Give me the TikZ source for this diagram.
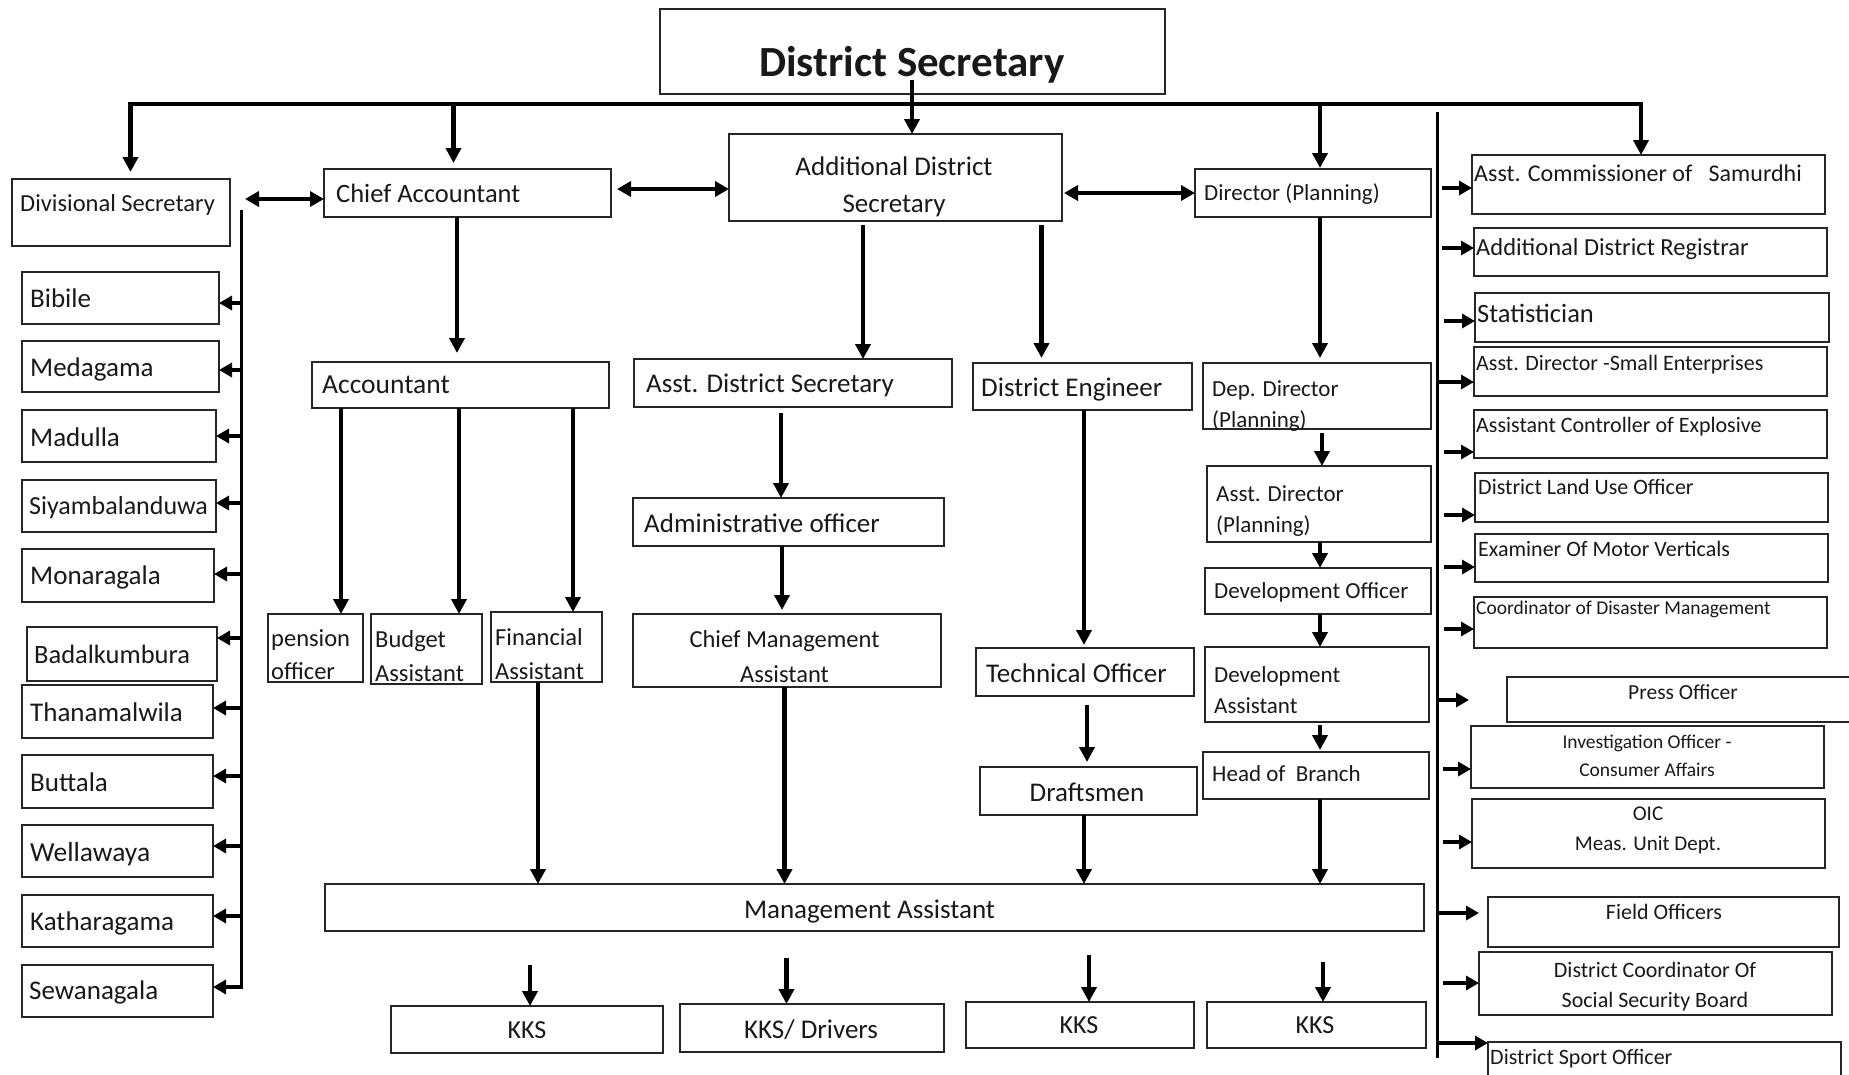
\documentclass[tikz,border=0pt]{standalone}
\usepackage{fontspec}
\setmainfont{Carlito}
\usetikzlibrary{arrows.meta,calc}
\tikzset{
  bx/.style={draw=black!85, line width=1.5pt, anchor=north west, inner sep=0pt, outer sep=0pt},
  tx/.style={inner sep=0pt, text=black!90},
  fs/.style={font=\fontsize{#1pt}{#1pt}\selectfont, text depth=0pt},
  fsb/.style 2 args={font=\fontsize{#1pt}{#2pt}\selectfont},
  arr/.style={line width=4.5pt, -{Triangle[length=15pt,width=15pt]}},
  sarr/.style={line width=4.5pt, -{Triangle[length=13pt,width=14pt]}},
  darr/.style={line width=4.5pt, {Triangle[length=14pt,width=15pt]}-{Triangle[length=14pt,width=15pt]}},
  hbar/.style={line width=3.5pt},
  vbar/.style={line width=3pt}
}
\newcommand{\obox}[5]{\node[bx, minimum width={#4-#2}, minimum height={#5-#3}] (#1) at (#2,#3) {};}
\begin{document}
\begin{tikzpicture}[x=1pt,y=-1pt]
\fill[white] (0,0) rectangle (1849,1074);
\useasboundingbox (0,0) rectangle (1849,1074);

% ---------- top ----------
\node[bx, line width=2.5pt, minimum width=505, minimum height=85] (ds) at (660,9) {};
\node[tx, font=\fontsize{43pt}{43pt}\selectfont\bfseries] (t-ds) at (912,65) {District Secretary};

\obox{ads}{729}{134}{1062}{221}
\node[tx, fsb={27}{37}, align=center] (t-ads) at (894,186.5) {Additional District\\Secretary};

% ---------- left column ----------
\obox{divsec}{12}{179}{230}{246}
\node[tx, fs=24.5, anchor=west] (t-divsec) at (20,203) {Divisional Secretary};
\obox{bib}{22}{272}{219}{324}
\node[tx, fs=27, anchor=west] (t-bib) at (30,298) {Bibile};
\obox{med}{22}{341}{219}{392}
\node[tx, fs=27, anchor=west] (t-med) at (30,367) {Medagama};
\obox{mad}{22}{410}{216}{462}
\node[tx, fs=27, anchor=west] (t-mad) at (30,437) {Madulla};
\obox{siy}{22}{480}{216}{532}
\node[tx, fs=26, anchor=west] (t-siy) at (29,505) {Siyambalanduwa};
\obox{mon}{22}{549}{214}{602}
\node[tx, fs=27, anchor=west] (t-mon) at (30,575) {Monaragala};
\obox{bad}{27}{627}{217}{681}
\node[tx, fs=26.5, anchor=west] (t-bad) at (34,654) {Badalkumbura};
\obox{tha}{22}{685}{213}{738}
\node[tx, fs=27, anchor=west] (t-tha) at (30,712) {Thanamalwila};
\obox{but}{22}{755}{213}{808}
\node[tx, fs=27, anchor=west] (t-but) at (30,782) {Buttala};
\obox{wel}{22}{825}{213}{877}
\node[tx, fs=27.5, anchor=west] (t-wel) at (30,852) {Wellawaya};
\obox{kat}{22}{895}{213}{947}
\node[tx, fs=27, anchor=west] (t-kat) at (30,921) {Katharagama};
\obox{sew}{22}{965}{213}{1017}
\node[tx, fs=27, anchor=west] (t-sew) at (29,990) {Sewanagala};

% ---------- accountant branch ----------
\obox{ca}{324}{169}{611}{217}
\node[tx, fs=26.5, anchor=west] (t-ca) at (336,193) {Chief Accountant};
\obox{acc}{312}{362}{609}{408}
\node[tx, fs=27.5, anchor=west] (t-acc) at (322,385) {Accountant};
\obox{pen}{268}{614}{363}{682}
\node[tx, fsb={24.5}{33}, align=left, anchor=west] (t-pen) at (271,655) {pension\\officer};
\obox{bud}{371}{614}{482}{684}
\node[tx, fsb={24.5}{34}, align=left, anchor=west] (t-bud) at (375,656) {Budget\\Assistant};
\obox{fin}{491}{612}{602}{682}
\node[tx, fsb={24.5}{34}, align=left, anchor=west] (t-fin) at (495,654) {Financial\\Assistant};

% ---------- ADS branch ----------
\obox{adists}{634}{359}{952}{407}
\node[tx, fs=27, anchor=west] (t-adists) at (646,383) {Asst. District Secretary};
\obox{admin}{633}{498}{944}{546}
\node[tx, fs=27, anchor=west] (t-admin) at (644,523) {Administrative officer};
\obox{cma}{633}{614}{941}{687}
\node[tx, fsb={24.5}{35}, align=center] (t-cma) at (784.5,656.5) {Chief Management\\Assistant};

\obox{de}{973}{363}{1192}{410}
\node[tx, fs=27, anchor=west] (t-de) at (981,387) {District Engineer};
\obox{to}{976}{648}{1194}{696}
\node[tx, fs=27, anchor=west] (t-to) at (986,673) {Technical Officer};
\obox{draft}{980}{767}{1197}{815}
\node[tx, fs=27] (t-draft) at (1087,792) {Draftsmen};

\obox{ma}{325}{884}{1424}{931}
\node[tx, fs=27] (t-ma) at (869.5,909) {Management Assistant};

\obox{kksa}{391}{1006}{663}{1053}
\node[tx, fs=26] (t-kksa) at (527,1030) {KKS};
\obox{kksb}{680}{1004}{944}{1052}
\node[tx, fs=27] (t-kksb) at (811,1029) {KKS/ Drivers};
\obox{kksc}{966}{1002}{1194}{1048}
\node[tx, fs=26] (t-kksc) at (1079,1025) {KKS};
\obox{kksd}{1207}{1002}{1426}{1048}
\node[tx, fs=26] (t-kksd) at (1315,1025) {KKS};

% ---------- planning branch ----------
\obox{dirp}{1195}{169}{1431}{217}
\node[tx, fs=23, anchor=west] (t-dirp) at (1204,192) {Director (Planning)};
\obox{depdir}{1203}{363}{1431}{429}
\node[tx, fsb={23}{31}, align=left, anchor=west] (t-depdir) at (1212,406.5) {Dep. Director\\(Planning)};
\obox{asstdir}{1207}{466}{1431}{542}
\node[tx, fsb={23}{31}, align=left, anchor=west] (t-asstdir) at (1216,511.5) {Asst. Director\\(Planning)};
\obox{devo}{1205}{568}{1431}{614}
\node[tx, fs=23, anchor=west] (t-devo) at (1214,591) {Development Officer};
\obox{deva}{1205}{647}{1429}{722}
\node[tx, fsb={23}{31}, align=left, anchor=west] (t-deva) at (1214,690.5) {Development\\Assistant};
\obox{hob}{1203}{752}{1429}{799}
\node[tx, fs=23, anchor=west] (t-hob) at (1212,774) {Head of\ \ Branch};

% ---------- right column ----------
\obox{sam}{1472}{155}{1825}{214}
\node[tx, fs=24, anchor=west] (t-sam) at (1474,173) {Asst. Commissioner of\ \ \ Samurdhi};
\obox{reg}{1474}{228}{1827}{276}
\node[tx, fs=24.5, anchor=west] (t-reg) at (1476,247) {Additional District Registrar};
\obox{stat}{1475}{293}{1829}{342}
\node[tx, fs=26.5, anchor=west] (t-stat) at (1477,313) {Statistician};
\obox{small}{1474}{347}{1827}{396}
\node[tx, fs=22, anchor=west] (t-small) at (1476,363) {Asst. Director -Small Enterprises};
\obox{expl}{1474}{410}{1827}{458}
\node[tx, fs=22, anchor=west] (t-expl) at (1476,425) {Assistant Controller of Explosive};
\obox{land}{1475}{473}{1828}{522}
\node[tx, fs=22, anchor=west] (t-land) at (1478,487) {District Land Use Officer};
\obox{exam}{1475}{534}{1828}{582}
\node[tx, fs=22, anchor=west] (t-exam) at (1478,549) {Examiner Of Motor Verticals};
\obox{disas}{1474}{597}{1827}{648}
\node[tx, fs=19.5, anchor=west] (t-disas) at (1476,608) {Coordinator of Disaster Management};
\obox{press}{1507}{677}{1870}{722}
\node[tx, fs=21.5] (t-press) at (1683,692) {Press Officer};
\obox{inv}{1471}{726}{1824}{788}
\node[tx, fsb={19.5}{28}, align=center] (t-inv) at (1647,755.5) {Investigation Officer -\\Consumer Affairs};
\obox{oic}{1472}{799}{1825}{868}
\node[tx, fsb={21}{30}, align=center] (t-oic) at (1648,830.5) {OIC\\Meas. Unit Dept.};
\obox{field}{1488}{897}{1839}{947}
\node[tx, fs=22] (t-field) at (1664,912) {Field Officers};
\obox{dcoord}{1479}{952}{1832}{1015}
\node[tx, fsb={22}{30}, align=center] (t-dcoord) at (1655,986.5) {District Coordinator Of\\Social Security Board};
\obox{sport}{1488}{1042}{1841}{1095}
\node[tx, fs=22, anchor=west] (t-sport) at (1490,1057) {District Sport Officer};

% ---------- top distribution line ----------
\coordinate (tl) at (130.5,104);
\coordinate (tca) at (453.5,104);
\coordinate (tdp) at (1320,104);
\coordinate (tr) at (1641,104);
\draw[hbar] ([xshift=-2.25pt]tl) -- ([xshift=2.25pt]tr);
\draw[arr, shorten >=7pt] ([yshift=1.75pt]tl) -- (tl |- divsec.north);
\draw[arr, shorten >=6pt] (tca) -- (tca |- ca.north);
\draw[arr, shorten >=1pt] (tdp) -- (tdp |- dirp.north);
\draw[arr] ([yshift=1.75pt]tr) -- (tr |- sam.north);
\coordinate (dsa) at (912,80);
\draw[arr] (dsa) -- (dsa |- ads.north);

% ---------- double arrows ----------
\coordinate (da1) at (245,199);
\draw[darr] (da1) -- (da1 -| ca.west);
\coordinate (da2) at (617,189);
\draw[darr] (da2) -- (da2 -| ads.west);
\coordinate (da3) at (1064,193);
\draw[darr] (da3) -- (da3 -| dirp.west);

% ---------- vertical separators ----------
\coordinate (vl1) at (241,210);
\coordinate (vl2) at (241,989);
\draw[vbar] (vl1) -- (vl2);
\coordinate (vr1) at (1437,112);
\coordinate (vr2) at (1437,1058);
\draw[vbar] (vr1) -- (vr2);

\foreach \n/\y in {bib/303,med/370,mad/436,siy/503,mon/574,bad/638,tha/708,but/776,wel/846,kat/916,sew/987}{
  \coordinate (l-\n) at (241,\y);
  \draw[sarr] (l-\n) -- (l-\n -| \n.east);
}
\foreach \n/\x/\y in {sam/1442/188,reg/1442/248,stat/1444/321,small/1439/382,expl/1444/452,land/1444/515,exam/1444/567,disas/1444/629,inv/1443/769,oic/1443/842,dcoord/1443/983,sport/1439/1043}{
  \coordinate (r-\n) at (\x,\y);
  \draw[sarr] (r-\n) -- (r-\n -| \n.west);
}
\coordinate (r-press) at (1439,700);
\draw[sarr] (r-press) -- ($(r-press -| press.west)+(-38,0)$);
\coordinate (r-field) at (1439,913);
\draw[sarr] (r-field) -- ($(r-field -| field.west)+(-9,0)$);

% ---------- down arrows ----------
\coordinate (x457) at (457,0);
\coordinate (x341) at (341,0);
\coordinate (x459) at (459,0);
\coordinate (x573) at (573,0);
\coordinate (x538) at (538,0);
\coordinate (x863) at (863,0);
\coordinate (x1041) at (1041.5,0);
\coordinate (x781) at (781,0);
\coordinate (x782) at (782,0);
\coordinate (x784) at (784.5,0);
\coordinate (x1084) at (1084,0);
\coordinate (x1087) at (1087,0);
\coordinate (x1320) at (1320,0);
\coordinate (x1322) at (1322,0);
\draw[arr, shorten >=9pt] (ca.south -| x457) -- (acc.north -| x457);
\draw[arr] (acc.south -| x341) -- (pen.north -| x341);
\draw[arr] (acc.south -| x459) -- (bud.north -| x459);
\draw[arr] (acc.south -| x573) -- (fin.north -| x573);
\draw[arr] (fin.south -| x538) -- (ma.north -| x538);
\draw[arr, shorten <=4pt] (ads.south -| x863) -- (adists.north -| x863);
\draw[arr, shorten <=4pt, shorten >=5pt] (ads.south -| x1041) -- (de.north -| x1041);
\draw[arr, shorten <=6pt] (adists.south -| x781) -- (admin.north -| x781);
\draw[arr, shorten >=4pt] (admin.south -| x782) -- (cma.north -| x782);
\draw[arr] (cma.south -| x784) -- (ma.north -| x784);
\draw[arr, shorten >=3pt] (de.south -| x1084) -- (to.north -| x1084);
\draw[arr, shorten <=9pt, shorten >=5pt] (to.south -| x1087) -- (draft.north -| x1087);
\draw[arr] (draft.south -| x1084) -- (ma.north -| x1084);
\draw[arr, shorten >=5pt] (dirp.south -| x1320) -- (depdir.north -| x1320);
\draw[arr, shorten <=4pt] (depdir.south -| x1322) -- (asstdir.north -| x1322);
\draw[arr] (asstdir.south -| x1320) -- (devo.north -| x1320);
\draw[arr] (devo.south -| x1320) -- (deva.north -| x1320);
\draw[arr, shorten <=3pt, shorten >=2pt] (deva.south -| x1320) -- (hob.north -| x1320);
\draw[arr] (hob.south -| x1320) -- (ma.north -| x1320);

% ---------- to KKS ----------
\coordinate (k1) at (530,965);
\coordinate (k2) at (786.5,958);
\coordinate (k3) at (1089,955);
\coordinate (k4) at (1323,962);
\draw[arr] (k1) -- (k1 |- kksa.north);
\draw[arr] (k2) -- (k2 |- kksb.north);
\draw[arr] (k3) -- (k3 |- kksc.north);
\draw[arr] (k4) -- (k4 |- kksd.north);
\end{tikzpicture}
\end{document}
